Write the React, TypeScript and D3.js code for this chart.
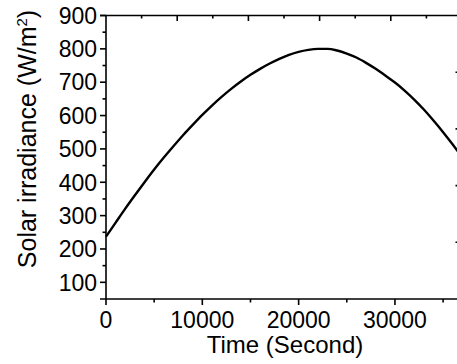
import React from "react";
import * as d3 from "d3";

const timeSec = [0,1000,2000,3000,4000,5000,6000,7000,8000,9000,10000,11000,12000,13000,14000,15000,16000,17000,18000,19000,20000,21000,22000,23000,24000,25000,26000,27000,28000,29000,30000,31000,32000,33000,34000,35000,36000,36650];
const irradiance = [237,279,321,361,400,438,474,508,541,572,602,630,656,680,702,722,740,756,770,782,791,797,800,800,795,786,774,758,740,720,699,675,648,618,585,550,513,488];

const xMajor = [0, 10000, 20000, 30000];
const xMinor = [5000, 15000, 25000, 35000];
const yMajor = [100, 200, 300, 400, 500, 600, 700, 800, 900];
const yMinor = [150, 250, 350, 450, 550, 650, 750, 850];
const topMajor = [1, 2, 3, 4];
const topMinor = [0.5, 1.5, 2.5, 3.5, 4.5];
const rightTicks = [1, 2, 3, 4];

const W = 457, H = 364;
const L = 106, R = 459, T = 15.5, B = 299;

export default function App() {
  const x = d3.scaleLinear().domain([0, 36650]).range([L, R]);
  const y = d3.scaleLinear().domain([50, 900]).range([B, T]);
  const xTop = d3.scaleLinear().domain([0, 5]).range([L, 462]);
  const yRight = d3.scaleLinear().domain([0, 5]).range([B, T]);
  const line = d3.line<number>()
    .x((_, i) => x(timeSec[i]))
    .y((d) => y(d))
    .curve(d3.curveMonotoneX);
  const font = "'Liberation Sans', Arial, sans-serif";
  const sw = 1.6;
  return (
    <svg width={W} height={H} style={{ position: "absolute", left: 0, top: 0, background: "#fff" }} fontFamily={font}>
      <rect x={0} y={0} width={W} height={H} fill="#fff" />
      <path d={line(irradiance) || ""} fill="none" stroke="#000" strokeWidth={2.4} strokeLinejoin="round" />
      <line x1={L} x2={L} y1={T} y2={B} stroke="#000" strokeWidth={sw} />
      <line x1={L - 6} x2={R} y1={B} y2={B} stroke="#000" strokeWidth={sw} />
      <line x1={L - 6} x2={R} y1={T} y2={T} stroke="#000" strokeWidth={sw} />
      <line x1={R} x2={R} y1={T} y2={B} stroke="#000" strokeWidth={sw} />
      {yMajor.map((v) => (
        <g key={"ym" + v}>
          <line x1={L - 6} x2={L} y1={y(v)} y2={y(v)} stroke="#000" strokeWidth={sw} />
          <text x={L - 9} y={y(v)} dy="0.36em" textAnchor="end" fontSize={23}>{v}</text>
        </g>
      ))}
      {yMinor.map((v) => (
        <line key={"yn" + v} x1={L - 3.5} x2={L} y1={y(v)} y2={y(v)} stroke="#000" strokeWidth={sw} />
      ))}
      {xMajor.map((v) => (
        <g key={"xm" + v}>
          <line x1={x(v)} x2={x(v)} y1={B} y2={B + 6} stroke="#000" strokeWidth={sw} />
          <text x={x(v)} y={327.5} textAnchor="middle" fontSize={23}>{v}</text>
        </g>
      ))}
      {xMinor.map((v) => (
        <line key={"xn" + v} x1={x(v)} x2={x(v)} y1={B} y2={B + 3.5} stroke="#000" strokeWidth={sw} />
      ))}
      {topMajor.map((v) => (
        <line key={"tm" + v} x1={xTop(v)} x2={xTop(v)} y1={T} y2={T + 5.5} stroke="#000" strokeWidth={sw} />
      ))}
      {topMinor.map((v) => (
        <line key={"tn" + v} x1={xTop(v)} x2={xTop(v)} y1={T} y2={T + 3} stroke="#000" strokeWidth={sw} />
      ))}
      {rightTicks.map((v) => (
        <line key={"rt" + v} x1={R - 3.5} x2={R} y1={yRight(v)} y2={yRight(v)} stroke="#000" strokeWidth={sw} />
      ))}
      <text x={285} y={353} textAnchor="middle" fontSize={24}>Time (Second)</text>
      <text transform="translate(36,139) rotate(-90)" textAnchor="middle" fontSize={25}>
        Solar irradiance (W/m<tspan dy="-9" fontSize={15}>2</tspan><tspan dy="9">)</tspan>
      </text>
    </svg>
  );
}
